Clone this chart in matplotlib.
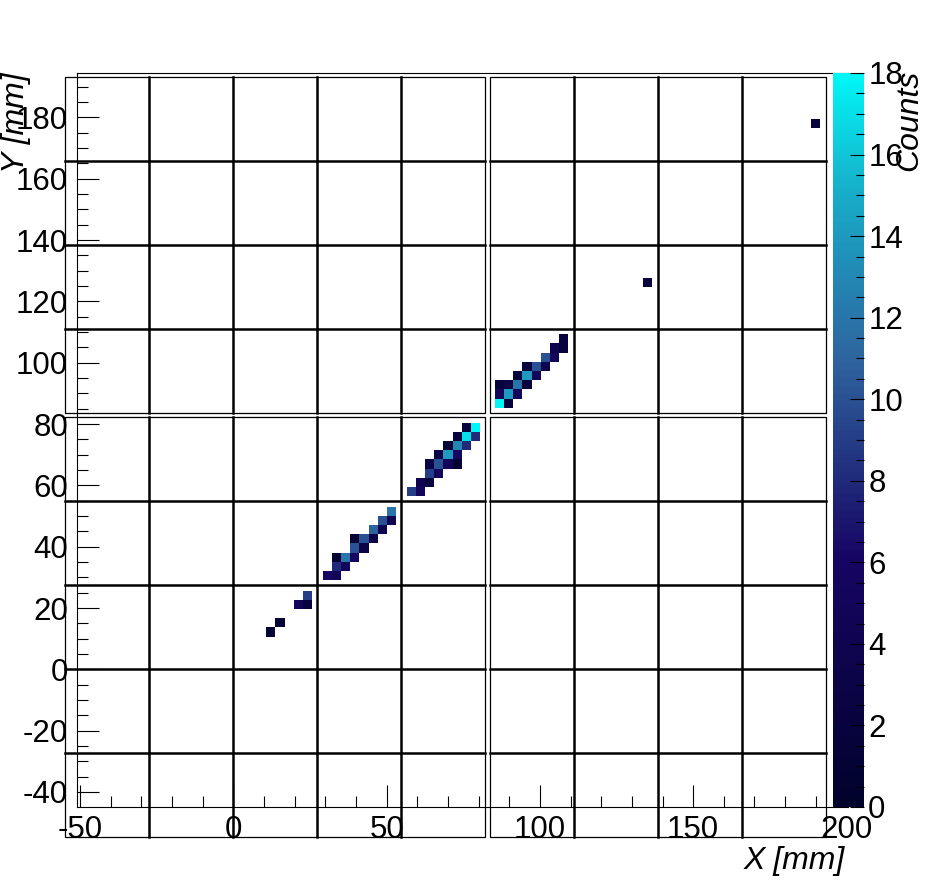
import numpy as np
import matplotlib
matplotlib.use('Agg')
import matplotlib.pyplot as plt
from matplotlib.colors import LinearSegmentedColormap
from matplotlib.patches import Rectangle
from matplotlib.ticker import MultipleLocator

plt.rcParams['font.family'] = ['Liberation Sans', 'DejaVu Sans']
plt.rcParams['axes.unicode_minus'] = False

# pixel hits: global pixel column / row (8 pixels per module), counts
hit_col = [23, 22, 23, 20, 19,
           31, 30, 31, 29, 30, 27, 28, 29, 27, 28, 25, 26, 27, 25, 26, 24, 25,
           38, 39, 37, 38, 39, 36, 37, 38, 35, 36, 37, 34, 35, 36, 37, 34, 35, 33, 34, 32, 33,
           40, 41, 40, 41, 42, 40, 41, 42, 43, 42, 43, 44, 43, 44, 45, 45, 46, 46, 47, 47,
           55, 71]
hit_row = [23, 22, 22, 20, 19,
           31, 30, 30, 29, 29, 28, 28, 28, 27, 27, 26, 26, 26, 25, 25, 24, 24,
           39, 39, 38, 38, 38, 37, 37, 37, 36, 36, 36, 35, 35, 35, 35, 34, 34, 33, 33, 32, 32,
           40, 40, 41, 41, 41, 42, 42, 42, 42, 43, 43, 43, 44, 44, 44, 45, 45, 46, 46, 47,
           52, 67]
hit_cnt = [9, 5, 2, 1, 1,
           12, 10, 4, 11, 4, 1, 10, 3, 10, 3, 1, 12, 6, 8, 5, 6, 5,
           2, 18, 2, 17, 8, 1, 13, 8, 3, 14, 6, 3, 10, 5, 1, 9, 5, 4, 2, 9, 5,
           18, 2, 5, 14, 5, 2, 3, 12, 2, 2, 14, 5, 2, 10, 4, 10, 5, 4, 2, 2,
           2, 2]

# colour stops (ROOT deep sea palette)
stops = [0.0, 0.34, 0.61, 0.84, 1.0]
red = [0.0, 0.09, 0.18, 0.09, 0.0]
green = [0.01, 0.02, 0.39, 0.68, 0.97]
blue = [0.17, 0.39, 0.62, 0.79, 0.97]

# detector geometry in mm
pitch = 27.4
pix = 3.0
margin = 1.7
group_a = [-54.8 + pitch * k for k in range(6)]
group_b = [83.6 + pitch * k for k in range(5)]
starts = group_a[:-1] + group_b[:-1]

cmap = LinearSegmentedColormap.from_list(
    'deepsea', [(s, (r, g, b)) for s, r, g, b in zip(stops, red, green, blue)])

edges = np.concatenate([s + margin + pix * np.arange(9) for s in starts])
ncell = len(edges) - 1
grid = np.full((ncell, ncell), np.nan)
for c, r, n in zip(hit_col, hit_row, hit_cnt):
    grid[r + r // 8, c + c // 8] = n
grid = np.ma.masked_invalid(grid)

fig = plt.figure(figsize=(9.26, 8.81), dpi=100)
ax = fig.add_axes([77 / 926, 74 / 881, 771 / 926, 734 / 881])
mesh = ax.pcolormesh(edges, edges, grid, cmap=cmap, vmin=0, vmax=18, zorder=1)

# module outlines
for xb in (group_a, group_b):
    for yb in (group_a, group_b):
        ax.add_patch(Rectangle((xb[0], yb[0]), xb[-1] - xb[0], yb[-1] - yb[0],
                               fill=False, lw=0.9, ec='black', clip_on=False, zorder=3))
        for x in xb[1:-1]:
            ax.plot([x, x], [yb[0], yb[-1]], color='black', lw=1.8, clip_on=False, zorder=3)
        for y in yb[1:-1]:
            ax.plot([xb[0], xb[-1]], [y, y], color='black', lw=1.8, clip_on=False, zorder=3)

ax.set_xlim(-51, 200.5)
ax.set_ylim(-44.9, 194.5)
ax.xaxis.set_major_locator(MultipleLocator(50))
ax.xaxis.set_minor_locator(MultipleLocator(10))
ax.yaxis.set_major_locator(MultipleLocator(20))
ax.yaxis.set_minor_locator(MultipleLocator(5))
ax.tick_params(which='both', direction='in', top=False, right=False, width=0.8, labelsize=22.5)
ax.tick_params(which='major', length=16)
ax.tick_params(which='minor', length=8)
ax.tick_params(axis='x', pad=5.5)
ax.tick_params(axis='y', pad=6.5)
for sp in ax.spines.values():
    sp.set_linewidth(0.8)

cax = fig.add_axes([833 / 926, 74 / 881, 31 / 926, 734 / 881])
cbar = fig.colorbar(mesh, cax=cax)
cbar.outline.set_visible(False)
cbar.ax.yaxis.set_major_locator(MultipleLocator(2))
cbar.ax.yaxis.set_minor_locator(MultipleLocator(0.5))
cbar.ax.tick_params(which='both', direction='in', right=True, left=False, width=0.8,
                    labelsize=22.5, pad=3)
cbar.ax.tick_params(which='major', length=10)
cbar.ax.tick_params(which='minor', length=6)

fig.text(845 / 926, 1 - 861 / 881, 'X [mm]', ha='right', va='center', style='italic', size=23)
fig.text(16 / 926, 1 - 72 / 881, 'Y [mm]', ha='center', va='top', rotation=90, style='italic', size=23)
fig.text(909 / 926, 1 - 70 / 881, 'Counts', ha='center', va='top', rotation=90, style='italic', size=23)

fig.savefig('out.png', dpi=100)
